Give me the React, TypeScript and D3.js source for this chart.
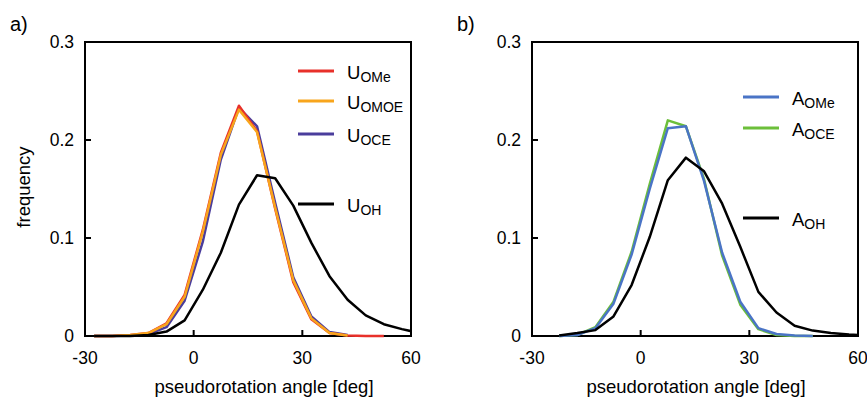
import * as d3 from 'd3';

// bin centres (deg)
const anglesA = [-27.5, -22.5, -17.5, -12.5, -7.5, -2.5, 2.5, 7.5, 12.5, 17.5, 22.5, 27.5, 32.5, 37.5, 42.5, 47.5, 52.5, 57.5, 62.5];
const anglesB = [-22.5, -17.5, -12.5, -7.5, -2.5, 2.5, 7.5, 12.5, 17.5, 22.5, 27.5, 32.5, 37.5, 42.5, 47.5, 52.5, 57.5, 62.5];

// panel a
const uOCE = [0, 0, 0.0005, 0.002, 0.009, 0.036, 0.096, 0.18, 0.233, 0.214, 0.136, 0.06, 0.02, 0.004, 0.001];
const uOMe = [0, 0, 0.001, 0.003, 0.013, 0.042, 0.108, 0.187, 0.235, 0.209, 0.13, 0.055, 0.017, 0.003, 0.0005, 0, 0];
const uOMOE = [0, 0, 0.001, 0.003, 0.012, 0.04, 0.106, 0.185, 0.231, 0.208, 0.131, 0.057, 0.018, 0.003, 0.0005];
const uOH = [0, 0, 0, 0.001, 0.0045, 0.016, 0.047, 0.085, 0.134, 0.164, 0.161, 0.133, 0.095, 0.061, 0.037, 0.021, 0.012, 0.007, 0.003];

// panel b
const aOCE = [0, 0.001, 0.009, 0.035, 0.086, 0.155, 0.22, 0.214, 0.16, 0.082, 0.032, 0.007, 0.001, 0, 0];
const aOMe = [0, 0.001, 0.008, 0.033, 0.083, 0.15, 0.212, 0.214, 0.158, 0.085, 0.035, 0.008, 0.002, 0.0005, 0];
const aOH = [0.0005, 0.003, 0.006, 0.02, 0.052, 0.101, 0.159, 0.182, 0.168, 0.135, 0.091, 0.045, 0.024, 0.0105, 0.0055, 0.003, 0.0015, 0.0005];

const xTicks = [-30, 0, 30, 60];
const yTicks = [0, 0.1, 0.2, 0.3];

const FONT = '"Liberation Sans", Arial, Helvetica, sans-serif';

interface Series {
  base: string;
  sub: string;
  color: string;
  angles: number[];
  values: number[];
  legendY: number;
}

interface PanelProps {
  id: string;
  tag: string;
  left: number;
  xLabelX: number;
  showYLabel: boolean;
  series: Series[]; // draw order
  legendOrder: Series[];
  legendX: number;
}

function Panel({ id, tag, left, xLabelX, showYLabel, series, legendOrder, legendX }: PanelProps) {
  const top = 42;
  const w = 326;
  const h = 294;
  const x = d3.scaleLinear().domain([-30, 60]).range([left, left + w]);
  const y = d3.scaleLinear().domain([0, 0.3]).range([top + h, top]);
  const line = d3
    .line<[number, number]>()
    .x((d) => x(d[0]))
    .y((d) => y(d[1]));

  return (
    <g fontFamily={FONT}>
      <defs>
        <clipPath id={`clip-${id}`}>
          <rect x={left - 2} y={top - 2} width={w + 2} height={h + 4} />
        </clipPath>
      </defs>
      <text x={left - 75} y={31} fontSize={20}>{tag}</text>
      <rect x={left} y={top} width={w} height={h} fill="none" stroke="#000" strokeWidth={2} />
      {xTicks.slice(1, -1).map((t) => (
        <line key={t} x1={x(t)} x2={x(t)} y1={top + h} y2={top + h - 6} stroke="#000" strokeWidth={2} />
      ))}
      {yTicks.slice(1, -1).map((t) => (
        <line key={t} x1={left} x2={left + 6} y1={y(t)} y2={y(t)} stroke="#000" strokeWidth={2} />
      ))}
      {xTicks.map((t) => (
        <text key={t} x={x(t)} y={364} fontSize={17.5} textAnchor="middle">{t}</text>
      ))}
      {yTicks.map((t) => (
        <text key={t} x={left - 11} y={y(t) + 6} fontSize={17.5} textAnchor="end">{t === 0 ? '0' : t.toFixed(1)}</text>
      ))}
      <text x={xLabelX} y={393} fontSize={18.5} textAnchor="middle">pseudorotation angle [deg]</text>
      {showYLabel && (
        <text transform={`translate(${left - 55},${top + h / 2 - 2}) rotate(-90)`} fontSize={18.5} textAnchor="middle">frequency</text>
      )}
      <g clipPath={`url(#clip-${id})`}>
        {series.map((s) => (
          <path
            key={s.sub}
            d={line(s.values.map((v, i) => [s.angles[i], v] as [number, number])) || ''}
            fill="none"
            stroke={s.color}
            strokeWidth={2.5}
            strokeLinejoin="round"
          />
        ))}
      </g>
      {legendOrder.map((s) => (
        <g key={s.sub}>
          <line x1={legendX} x2={legendX + 36} y1={s.legendY} y2={s.legendY} stroke={s.color} strokeWidth={3} />
          <text x={legendX + 49} y={s.legendY + 8} fontSize={18.5}>
            {s.base}
            <tspan dy={3} fontSize={14}>{s.sub}</tspan>
          </text>
        </g>
      ))}
    </g>
  );
}

export default function App() {
  const sOMe: Series = { base: 'U', sub: 'OMe', color: '#e8302a', angles: anglesA, values: uOMe, legendY: 71 };
  const sOMOE: Series = { base: 'U', sub: 'OMOE', color: '#f8a51c', angles: anglesA, values: uOMOE, legendY: 101 };
  const sOCE: Series = { base: 'U', sub: 'OCE', color: '#4a3d9c', angles: anglesA, values: uOCE, legendY: 134 };
  const sOH: Series = { base: 'U', sub: 'OH', color: '#000000', angles: anglesA, values: uOH, legendY: 204 };

  const bOMe: Series = { base: 'A', sub: 'OMe', color: '#4a74c6', angles: anglesB, values: aOMe, legendY: 97 };
  const bOCE: Series = { base: 'A', sub: 'OCE', color: '#6cbf3a', angles: anglesB, values: aOCE, legendY: 128 };
  const bOH: Series = { base: 'A', sub: 'OH', color: '#000000', angles: anglesB, values: aOH, legendY: 218 };

  return (
    <svg width={867} height={397} style={{ position: 'absolute', left: 0, top: 0, background: '#fff' }}>
      <Panel
        id="a"
        tag="a)"
        left={85}
        xLabelX={264}
        showYLabel
        series={[sOCE, sOMe, sOMOE, sOH]}
        legendOrder={[sOMe, sOMOE, sOCE, sOH]}
        legendX={298}
      />
      <Panel
        id="b"
        tag="b)"
        left={532}
        xLabelX={696}
        showYLabel={false}
        series={[bOCE, bOMe, bOH]}
        legendOrder={[bOMe, bOCE, bOH]}
        legendX={743}
      />
    </svg>
  );
}
